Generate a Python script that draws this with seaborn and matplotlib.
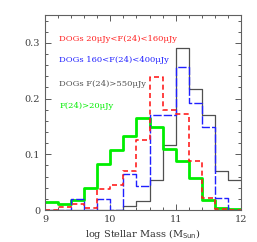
import numpy as np
import pandas as pd
import matplotlib
matplotlib.use("Agg")
import matplotlib.pyplot as plt
from matplotlib.ticker import MultipleLocator, FixedLocator
import seaborn as sns

sns.set_style("ticks")
plt.rcParams['font.family'] = ['DejaVu Serif']

edges = [9.0, 9.2, 9.4, 9.6, 9.8, 10.0, 10.2, 10.4, 10.6, 10.8, 11.0, 11.2, 11.4, 11.6, 11.8, 12.0]
centers = [(a + b) / 2 for a, b in zip(edges[:-1], edges[1:])]

red_vals = [0.0, 0.005, 0.011, 0.004, 0.037, 0.045, 0.070, 0.126, 0.238, 0.179, 0.173, 0.088, 0.021, 0.002, 0.0]
blue_vals = [0.0, 0.0, 0.020, 0.0, 0.020, 0.0, 0.064, 0.043, 0.171, 0.171, 0.257, 0.192, 0.149, 0.021, 0.0]
gray_vals = [0.0, 0.0, 0.0, 0.0, 0.0, 0.0, 0.008, 0.017, 0.054, 0.116, 0.290, 0.217, 0.171, 0.070, 0.054]
green_vals = [0.014, 0.011, 0.018, 0.040, 0.082, 0.107, 0.133, 0.166, 0.149, 0.109, 0.0875, 0.058, 0.018, 0.003, 0.002]

labels = ["DOGs 20\u03bcJy<F(24)<160\u03bcJy", "DOGs 160<F(24)<400\u03bcJy",
          "DOGs F(24)>550\u03bcJy", "F(24)>20\u03bcJy"]
colors = ["#ff2020", "#2020ff", "#505050", "#00ee00"]

fig = plt.figure(figsize=(2.57, 2.42), dpi=100)
ax = fig.add_axes([0.175, 0.132, 0.763, 0.806])

series = [
    (gray_vals, colors[2], '-', 0.9),
    (green_vals, colors[3], '-', 2.0),
    (blue_vals, colors[1], (0, (6, 1.5)), 1.0),
    (red_vals, colors[0], (0, (3, 2)), 1.2),
]
for vals, c, ls, lw in series:
    df = pd.DataFrame({"x": centers, "w": vals})
    sns.histplot(data=df, x="x", weights="w", bins=edges, element="step",
                 fill=False, color=c, linestyle=ls, linewidth=lw, ax=ax)

ax.set_xlim(9, 12)
ax.set_ylim(0, 0.35)
ax.xaxis.set_major_locator(FixedLocator([9, 10, 11, 12]))
ax.xaxis.set_minor_locator(MultipleLocator(0.2))
ax.yaxis.set_major_locator(FixedLocator([0, 0.1, 0.2, 0.3]))
ax.yaxis.set_minor_locator(MultipleLocator(0.02))
ax.set_xticklabels(["9", "10", "11", "12"])
ax.set_yticklabels(["0", "0.1", "0.2", "0.3"])
ax.tick_params(which='both', direction='in', top=True, right=True, labelsize=7,
               colors='#404040', width=0.6)
ax.tick_params(which='major', length=4)
ax.tick_params(which='minor', length=2)
for s in ax.spines.values():
    s.set_color('#606060')
    s.set_linewidth(0.8)
ax.set_ylabel("")
ax.set_xlabel("log Stellar Mass (M$_{\\rm Sun}$)", fontsize=7, labelpad=2, color='#303030')

ys = [0.877, 0.769, 0.645, 0.535]
for lab, c, y in zip(labels, colors, ys):
    ax.text(0.072, y, lab, transform=ax.transAxes, color=c, fontsize=6.0, va='center')

fig.savefig("out.png", dpi=100)
